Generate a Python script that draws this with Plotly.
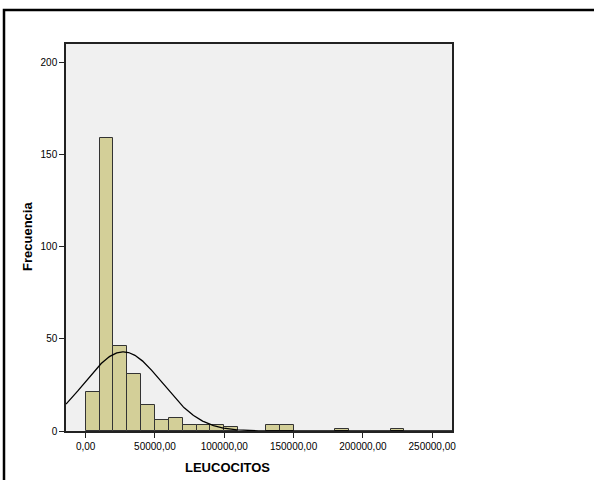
import numpy as np
import plotly.graph_objects as go

# Histogram of LEUCOCITOS, bins of 10000
bin_starts = [0, 10000, 20000, 30000, 40000, 50000, 60000, 70000, 80000, 90000,
              100000, 130000, 140000, 180000, 220000]
counts = [21, 159, 46, 31, 14, 6, 7, 3, 3, 3, 2, 3, 3, 1, 1]
bin_width = 10000

# Normal curve parameters
mean_val = 27100
std_val = 28100

x_ticks = [0, 50000, 100000, 150000, 200000, 250000]
x_tick_text = ["0,00", "50000,00", "100000,00", "150000,00", "200000,00", "250000,00"]
y_ticks = [0, 50, 100, 150, 200]
y_tick_text = ["0", "50", "100", "150", "200"]

x_range = [-14200, 264300]
y_range = [0, 210.3]

W, H = 594, 480
L, R, T, B = 66, 452, 44, 431

n_total = sum(counts)
centers = [s + bin_width / 2 for s in bin_starts]

xs = np.linspace(x_range[0], x_range[1], 600)
dens = n_total * bin_width / (std_val * np.sqrt(2 * np.pi)) * np.exp(-0.5 * ((xs - mean_val) / std_val) ** 2)

fig = go.Figure()
fig.add_trace(go.Bar(
    x=centers, y=counts, width=bin_width,
    marker=dict(color="#D3CF98", line=dict(color="#333333", width=1)),
    showlegend=False, hoverinfo="skip",
))
fig.add_trace(go.Scatter(
    x=xs, y=dens, mode="lines",
    line=dict(color="#000000", width=1.3),
    showlegend=False, hoverinfo="skip",
))

font_family = "Liberation Sans, Arial, sans-serif"

def px_to_paper_x(px):
    return (px - L) / (R - L)

def px_to_paper_y(py):
    return (B - py) / (B - T)

fig.update_layout(
    width=W, height=H,
    margin=dict(l=L, r=W - R, t=T, b=H - B, pad=0),
    paper_bgcolor="#FFFFFF",
    plot_bgcolor="#F0F0F0",
    bargap=0,
    font=dict(family=font_family, size=10, color="#000000"),
    xaxis=dict(
        range=x_range, tickvals=x_ticks, ticktext=x_tick_text,
        ticks="outside", ticklen=5, tickwidth=1, tickcolor="#222222",
        showgrid=False, zeroline=False,
        showline=True, linecolor="#222222", linewidth=1.5, mirror=True,
        tickfont=dict(size=10, family=font_family),
    ),
    yaxis=dict(
        range=y_range, tickvals=y_ticks, ticktext=y_tick_text,
        ticks="outside", ticklen=5, tickwidth=1, tickcolor="#222222",
        showgrid=False, zeroline=False,
        showline=True, linecolor="#222222", linewidth=1.5, mirror=True,
        tickfont=dict(size=10, family=font_family),
    ),
    shapes=[
        dict(type="path", xref="paper", yref="paper",
             path="M {a},{b} L {a},{c} L {d},{c}".format(
                 a=px_to_paper_x(4), b=px_to_paper_y(482),
                 c=px_to_paper_y(10), d=px_to_paper_x(600)),
             line=dict(color="#000000", width=2.5)),
    ],
    annotations=[
        dict(text="<b>LEUCOCITOS</b>", xref="paper", yref="paper",
             x=px_to_paper_x(227), y=px_to_paper_y(467),
             xanchor="center", yanchor="middle", showarrow=False,
             font=dict(size=13, family=font_family)),
        dict(text="<b>Frecuencia</b>", xref="paper", yref="paper",
             x=px_to_paper_x(28), y=px_to_paper_y(237),
             xanchor="center", yanchor="middle", showarrow=False, textangle=-90,
             font=dict(size=13, family=font_family)),
    ],
)

fig.write_html("out.html")
